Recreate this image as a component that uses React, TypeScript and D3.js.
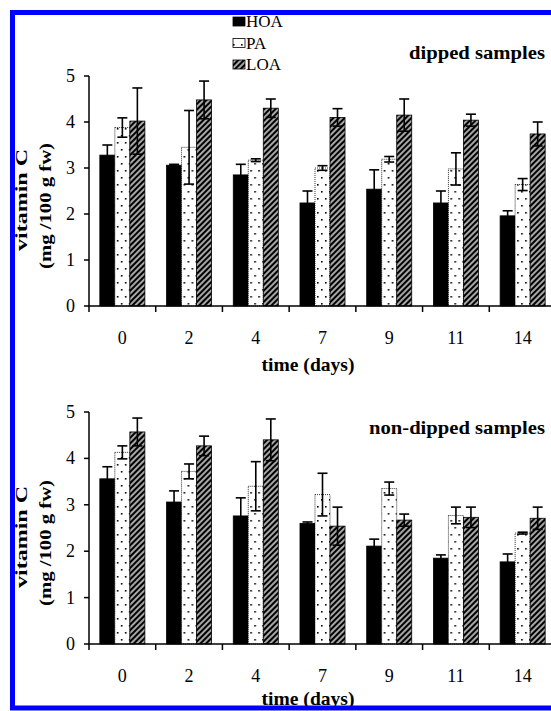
import React from "react";
import { scaleBand, scaleLinear } from "d3";

const width = 551, height = 711;
const font = "'Liberation Serif', 'Times New Roman', serif";

const days = ["0", "2", "4", "7", "9", "11", "14"];
const series = ["HOA", "PA", "LOA"];
const yTicks = [0, 1, 2, 3, 4, 5];

// dipped samples
const hoaDipped = [3.28, 3.06, 2.85, 2.24, 2.54, 2.24, 1.96];
const hoaDippedErr = [0.22, 0.02, 0.23, 0.26, 0.42, 0.26, 0.11];
const paDipped = [3.88, 3.45, 3.17, 3.0, 3.19, 2.98, 2.64];
const paDippedErr = [0.21, 0.8, 0.03, 0.05, 0.06, 0.35, 0.13];
const loaDipped = [4.02, 4.48, 4.3, 4.1, 4.15, 4.04, 3.74];
const loaDippedErr = [0.72, 0.41, 0.2, 0.19, 0.35, 0.13, 0.26];

// non-dipped samples
const hoaNon = [3.56, 3.06, 2.76, 2.6, 2.11, 1.85, 1.77];
const hoaNonErr = [0.26, 0.24, 0.39, 0.03, 0.15, 0.07, 0.17];
const paNon = [4.13, 3.72, 3.4, 3.22, 3.35, 2.77, 2.39];
const paNonErr = [0.14, 0.16, 0.53, 0.46, 0.14, 0.18, 0.02];
const loaNon = [4.57, 4.27, 4.4, 2.54, 2.67, 2.73, 2.71];
const loaNonErr = [0.3, 0.21, 0.45, 0.41, 0.13, 0.22, 0.24];

const fills = { HOA: "#000", PA: "url(#dots)", LOA: "url(#hatch)" };

const Panel = ({ top, bottom, title, titleY, titleLen, xLabelY, values, errs }) => {
  const x = scaleBand().domain(days).range([89, 556]).paddingInner(0.325).paddingOuter(0.1625);
  const xs = scaleBand().domain(series).range([0, x.bandwidth()]);
  const y = scaleLinear().domain([0, 5]).range([bottom, top]);
  const step = x.step();
  const mid = (top + bottom) / 2;

  return <g>
    {days.map((d, i) => <g key={d} transform={`translate(${x(d)},0)`}>
      {series.map((s, j) => {
        const v = values[j][i], e = errs[j][i];
        const bx = xs(s), bw = xs.bandwidth();
        const cx = bx + bw / 2;
        return <g key={s}>
          <rect x={bx} y={y(v)} width={bw} height={y(0) - y(v)} fill={fills[s]}
            stroke="#000" strokeWidth={0.8}
            strokeDasharray={s === "PA" ? "1,1" : null} />
          <g stroke="#000" strokeWidth={1.6}>
            <line x1={cx} x2={cx} y1={y(v + e)} y2={y(v - e)} />
            <line x1={cx - 5} x2={cx + 5} y1={y(v + e)} y2={y(v + e)} />
            <line x1={cx - 5} x2={cx + 5} y1={y(v - e)} y2={y(v - e)} />
          </g>
        </g>;
      })}
      <text x={x.bandwidth() / 2} y={bottom + 38} textAnchor="middle" fontSize={18}>{d}</text>
    </g>)}
    {/* axes */}
    <line x1={89} x2={89} y1={top} y2={bottom} stroke="#000" strokeWidth={1.5} />
    <line x1={89} x2={551} y1={bottom} y2={bottom} stroke="#000" strokeWidth={1.5} />
    {yTicks.map(t => <g key={t}>
      <line x1={84} x2={89} y1={y(t)} y2={y(t)} stroke="#000" strokeWidth={1.5} />
      <text x={75} y={y(t) + 6} textAnchor="end" fontSize={18}>{t}</text>
    </g>)}
    {days.map((d, i) => <line key={d} x1={89 + i * step} x2={89 + i * step} y1={bottom} y2={bottom + 6}
      stroke="#000" strokeWidth={1.5} />)}
    <text x={308} y={xLabelY} textAnchor="middle" fontSize={19} fontWeight="bold"
      textLength={93} lengthAdjust="spacingAndGlyphs">time (days)</text>
    <text x={545} y={titleY} textAnchor="end" fontSize={18} fontWeight="bold"
      textLength={titleLen} lengthAdjust="spacingAndGlyphs">{title}</text>
    <g transform={`translate(27,${mid + 9}) rotate(-90)`}>
      <text textAnchor="middle" fontSize={17} fontWeight="bold"
        textLength={102} lengthAdjust="spacingAndGlyphs">vitamin C</text>
    </g>
    <g transform={`translate(51,${mid + 15}) rotate(-90)`}>
      <text textAnchor="middle" fontSize={17} fontWeight="bold"
        textLength={126} lengthAdjust="spacingAndGlyphs">(mg /100 g fw)</text>
    </g>
  </g>;
};

const App = () => {
  return <svg width={width} height={height} style={{ position: "absolute", left: 0, top: 0, background: "#fff" }}
    fontFamily={font}>
    <defs>
      <pattern id="hatch" patternUnits="userSpaceOnUse" width={4} height={4} patternTransform="rotate(45)">
        <rect width={4} height={4} fill="#000" />
        <line x1={1} x2={1} y1={0} y2={4} stroke="#fff" strokeWidth={1.3} />
      </pattern>
      <pattern id="dots" patternUnits="userSpaceOnUse" width={8} height={14}>
        <rect width={8} height={14} fill="#fff" />
        <rect x={1} y={2} width={1.6} height={1.6} fill="#000" />
        <rect x={5} y={9} width={1.6} height={1.6} fill="#000" />
      </pattern>
    </defs>
    <rect width={width} height={height} fill="#fff" />
    <Panel top={76} bottom={306} title="dipped samples" titleY={59} titleLen={136} xLabelY={371}
      values={[hoaDipped, paDipped, loaDipped]} errs={[hoaDippedErr, paDippedErr, loaDippedErr]} />
    <Panel top={412} bottom={644} title="non-dipped samples" titleY={434} titleLen={176} xLabelY={705}
      values={[hoaNon, paNon, loaNon]} errs={[hoaNonErr, paNonErr, loaNonErr]} />
    {/* legend */}
    {series.map((s, i) => <g key={s}>
      <rect x={233} y={17 + i * 21.5} width={12} height={9} fill={fills[s]} stroke="#000" strokeWidth={0.8} />
      <text x={246} y={27 + i * 21.5} fontSize={17}>{s}</text>
    </g>)}
    {/* blue frame, open on the right */}
    <path d="M 551 12.5 H 12.5 V 708 H 551" fill="none" stroke="#0000ff" strokeWidth={5} />
  </svg>;
};

export default App;
